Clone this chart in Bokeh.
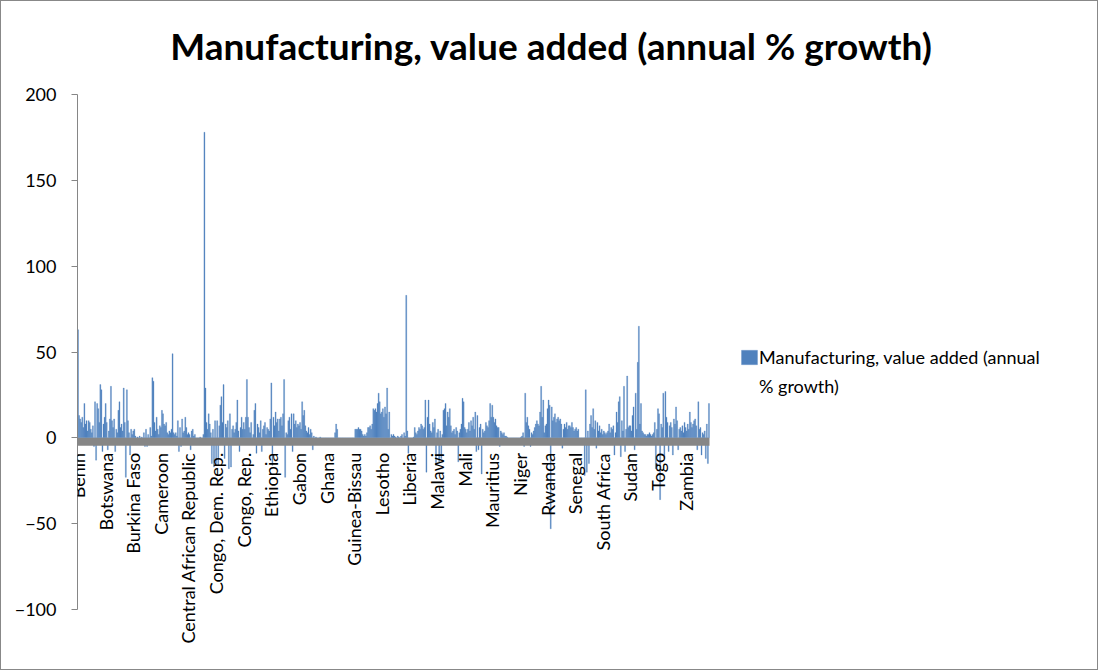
import math
from bokeh.plotting import figure
from bokeh.models import (Range1d, FixedTicker, BoxAnnotation, LabelSet, ColumnDataSource,
                          Legend, LegendItem, Label)
from bokeh.core.properties import value
from bokeh.embed import file_html
from bokeh.resources import INLINE

title_text = "Manufacturing, value added (annual % growth)"
series_name_line1 = "Manufacturing, value added (annual"
series_name_line2 = "% growth)"

countries = ["Benin", "Botswana", "Burkina Faso", "Cameroon", "Central African Republic",
             "Congo, Dem. Rep.", "Congo, Rep.", "Ethiopia", "Gabon", "Ghana", "Guinea-Bissau",
             "Lesotho", "Liberia", "Malawi", "Mali", "Mauritius", "Niger", "Rwanda", "Senegal",
             "South Africa", "Sudan", "Togo", "Zambia"]

benin = [63, 13, 11, 9, 12, 6, 20, 8, 10, 4, 10, 9, 5, 3, 7, -5, 21, -13, 20, 17, 9, 31, 28, -8, 8, 12]
botswana = [20, 9, -7, 4, 11, 30, 10, 6, 11, -8, 5, 3, 16, 21, 6, 8, 4, 29, 9, -23, 28, 10, 3, -10, 5, 2]
burkina_faso = [4, 5, 1, 0, 0.5, 0, 1, 0, 0.5, 0, 3, -5, 5, -5, 2, -4, 6, 1, 35, 33, 9, 4, 12, 5, 2, 7]
cameroon = [6, 16, 14, 8, 7, 9, 3, 2, 4, 3, 5, 49, 3, 2, 3, 1, 10, -8, 6, -5, 11, 3, 4, 12, 6, 2]
central_african_rep = [3, 2, -7, 4, 5, 1, 2, 0, 0, 0, 0, 0.5, 0, 0, 2, 178, 29, 9, 5, 14, 8, 3, -15, 5, -17, 10]
congo_dem_rep = [-15, 10, -16, 7, 19, 24, 9, 31, -12, 8, 6, 10, -18, 14, -17, 5, 7, 3, 5, 9, 22, 4, -8, 6, 12, 5]
congo_rep = [9, 5, 12, 34, 12, 6, 3, 9, -3, 2, 16, 20, -9, 8, 6, 3, 10, -8, 5, 7, 9, 2, 6, 5, 4, 11]
ethiopia = [32, -16, 12, 7, 15, 9, 11, 4, 11, 12, 7, 14, 34, -23, 3, 2, 10, 12, 5, 14, -8, 14, 8, 10, 6, 8]
gabon = [7, 9, 5, 21, 13, 16, 7, 4, 3, 6, 2, 5, 3, -7, 1, 0, 0.5, 0, 0, 0, 0.5, 0, 0, 0, 0, 0]
ghana = [0, 0, 0, 0, 0, 0, 0, 0, 3, 8, 5, 0, 0, 0, 0, 0, 0, 0, 0, 0, 0, 0, 0, 0, 0, 0]
guinea_bissau = [0, 5, 5, 5, 6, 5, 5, 4, 2, 1, 2, 1, 3, 6, 6, 7, 5, 8, 17, 16, 17, 15, 20, 26, 21, 14]
lesotho = [15, 17, 12, 18, 14, 29, 5, 15, -4, 2, 1, 2, 1, 0.5, 0, 1, 0.5, 0, 1, 2, 0, 3, 1, 83, 4, -9]
liberia = [0, 0, 0, 0, 0.5, 6, 3, 2, 4, 6, 5, 8, 7, 5, 6, 22, -20, 12, 22, 8, 4, 3, 9, 6, 11, -16]
malawi = [3, 5, -14, 4, -12, 2, 16, 17, 20, 7, 15, 12, 17, 7, 3, 4, 5, 2, 6, 4, -14, 3, 5, 8, 23, 21]
mali = [6, 5, 3, 5, 9, 4, 10, 7, 12, 5, 15, -8, 13, -7, 6, 8, -21, 5, 3, 4, 9, 7, 6, 10, 20, 12]
mauritius = [19, 12, 9, 11, 7, 6, 6, -5, 4, 3, 2, 3, 1, 1, 0.5, 0, 0, 0, 0, 0, 0, 0, 0, 0, 0, 0]
niger = [0, 0.5, 1, 3, -5, 26, 9, 12, 7, 5, -5, 3, 2, 4, 6, 8, 10, 8, 7, 15, 30, 12, 22, 3, 7, 8]
rwanda = [17, 22, 19, -53, 18, 10, 12, 14, 9, 11, 12, 10, 11, 8, -6, 5, 8, 6, 9, 5, 7, 7, 6, 9, 6, 4]
senegal = [5, 6, 4, 5, 0, 0, 0, 0, 0, -22, 28, -20, 4, -15, 8, 13, 6, 17, 5, 10, -6, 9, 4, 7, 3, 5]
south_africa = [2, 4, 3, 2, 3, 4, 8, 3, 6, 5, 7, -10, 3, 15, 9, 21, 24, -11, 10, 4, 30, -8, 5, 36, 6, 7]
sudan = [7, 4, 13, 18, -7, 26, 5, 44, 65, 8, 20, 4, 3, 2, 2, 1, 2, 2, 3, 2, 1, 2, 3, 9, -18, 5]
togo = [17, 14, -36, 8, 6, 26, -12, 27, 12, 9, -8, 7, 9, 6, -10, 11, 8, 18, 10, -7, 5, 6, 4, 7, 3, 9]
zambia = [6, 4, 8, 5, 15, 9, 6, 8, 10, 11, 7, -7, 21, 5, 6, -10, 3, 2, 4, -12, 8, -15, 20]

y_ticks = [-100, -50, 0, 50, 100, 150, 200]
y_min, y_max = -100, 200

groups = [benin, botswana, burkina_faso, cameroon, central_african_rep, congo_dem_rep, congo_rep,
          ethiopia, gabon, ghana, guinea_bissau, lesotho, liberia, malawi, mali, mauritius, niger,
          rwanda, senegal, south_africa, sudan, togo, zambia]

growth = [v for g in groups for v in g]
n = len(growth)
idx = list(range(n))
label_x = []
pos = 0
for g in groups:
    label_x.append(pos)
    pos += len(g)

FONT = "Lato"
BLUE = "#4F81BD"
GRAY = "#868686"

# layout (pixels): plot area 632 x 515, left edge 76, top 93
W, H = 1098, 670
LEFT, TOP = 76, 93
AREA_W, AREA_H = 632, 515
px_per_cat = AREA_W / n
px_per_unit = AREA_H / (y_max - y_min)
frame_w = W - LEFT
x_end = -0.5 + frame_w / px_per_cat
y_top = y_max + TOP / px_per_unit
y_start = y_min - (H - TOP - AREA_H) / px_per_unit

p = figure(width=W, height=H, output_backend="svg", toolbar_location=None,
           x_range=Range1d(-0.5, x_end), y_range=Range1d(y_start, y_top),
           min_border_left=LEFT, min_border_right=0, min_border_top=0, min_border_bottom=0)
p.styles = {"border": "1px solid #888888", "box-sizing": "border-box"}

p.xaxis.visible = False
p.xgrid.visible = False
p.ygrid.visible = False
p.outline_line_color = None
p.background_fill_color = "white"
p.border_fill_color = "white"

ya = p.yaxis[0]
ya.ticker = FixedTicker(ticks=y_ticks)
ya.bounds = (y_min, y_max)
ya.axis_line_color = GRAY
ya.major_tick_line_color = GRAY
ya.major_tick_out = 6
ya.major_tick_in = 0
ya.minor_tick_line_color = None
ya.major_label_standoff = 15
ya.major_label_text_font = FONT
ya.major_label_text_font_size = "18px"
ya.major_label_text_color = "black"

bars = p.vbar(x=idx, top=growth, bottom=0, width=0.95, fill_color=BLUE,
              line_color=BLUE, line_width=0.3)
blank = p.vbar(x=[], top=[], width=0.95, fill_alpha=0, line_alpha=0)

band = BoxAnnotation(top=0, bottom=-4.6, left=-0.5, right=n - 0.5,
                     fill_color=GRAY, fill_alpha=1.0, line_color=None)
p.add_layout(band)

lab_src = ColumnDataSource(dict(x=label_x, y=[0] * len(label_x), text=countries))
labels = LabelSet(x="x", y="y", text="text", source=lab_src, angle=math.pi / 2,
                  text_align="right", text_baseline="middle", y_offset=-15,
                  text_font=value(FONT), text_font_size=value("18px"), text_color="black")
p.add_layout(labels)

title = Label(x=550 - LEFT, y=H - 44, x_units="screen", y_units="screen", text=title_text,
              text_align="center", text_baseline="middle", text_font=FONT,
              text_font_style="bold", text_font_size="37px", text_color="black")
p.add_layout(title)

legend = Legend(items=[LegendItem(label=series_name_line1, renderers=[bars]),
                       LegendItem(label=series_name_line2, renderers=[blank])],
                location=(662, 271), glyph_width=20, glyph_height=18, padding=0, margin=0,
                spacing=0, label_height=29, label_standoff=0, border_line_color=None,
                background_fill_alpha=0, label_text_font=FONT, label_text_font_size="18px",
                label_text_color="black")
p.add_layout(legend)

open("out.html", "w").write(file_html(p, INLINE))
